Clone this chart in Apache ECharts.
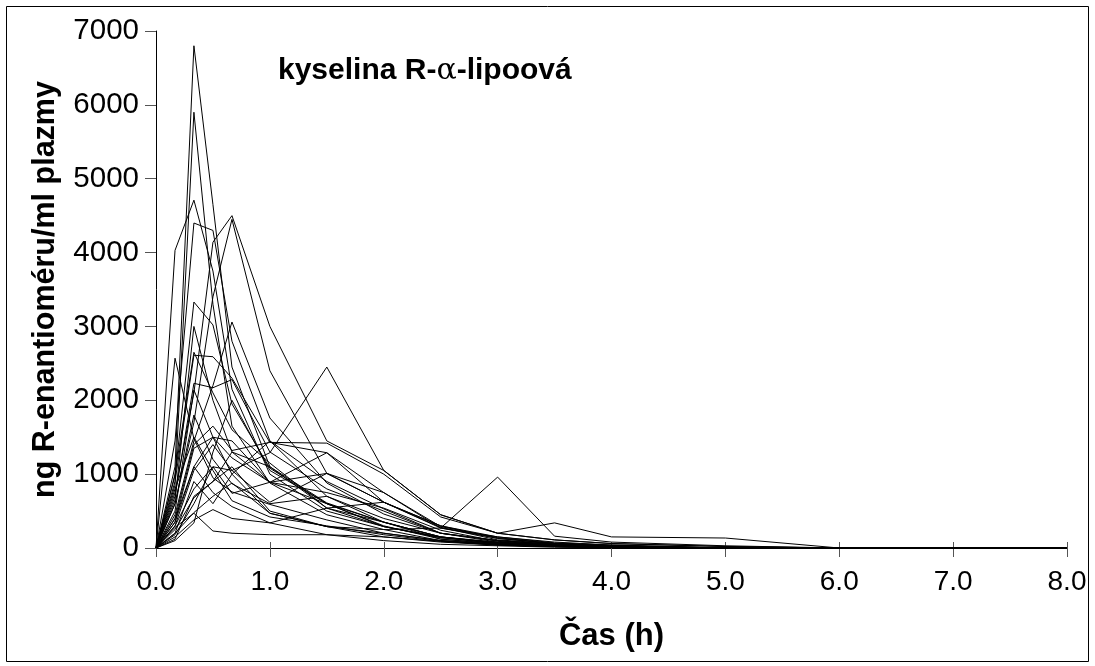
<!DOCTYPE html>
<html>
<head>
<meta charset="utf-8">
<script src="https://cdn.jsdelivr.net/npm/echarts@6/dist/echarts.min.js"></script>
<style>html,body{margin:0;padding:0;background:#fff}#c{width:1095px;height:666px}</style>
</head>
<body>
<div id="c"></div>
<script>
const times = [0, 0.167, 0.333, 0.5, 0.667, 1, 1.5, 2, 2.5, 3, 3.5, 4, 5, 6, 8];
const xTicks = ['0.0','1.0','2.0','3.0','4.0','5.0','6.0','7.0','8.0'];
const yTicks = ['0', '1000', '2000', '3000', '4000', '5000', '6000', '7000'];
const s01 = [0, 1100, 6800, 4650, 2450, 1100, 540, 290, 140, 60, 30, 15, 0, 0, 0];
const s02 = [0, 850, 5900, 3300, 1650, 880, 450, 250, 100, 50, 25, 10, 0, 0, 0];
const s03 = [0, 4030, 4710, 3750, 2150, 1000, 500, 290, 150, 80, 40, 20, 0, 0, 0];
const s04 = [0, 1450, 4400, 4300, 2800, 1450, 700, 350, 150, 70, 35, 15, 0, 0, 0];
const s05 = [0, 750, 2100, 4140, 4500, 3000, 1450, 1050, 450, 200, 110, 60, 20, 0, 0];
const s06 = [0, 600, 1700, 3400, 4450, 2400, 1010, 620, 270, 130, 60, 30, 0, 0, 0];
const s07 = [0, 2570, 1480, 950, 760, 590, 380, 200, 100, 50, 20, 10, 0, 0, 0];
const s08 = [0, 980, 3330, 3020, 1950, 1080, 600, 300, 120, 60, 30, 10, 0, 0, 0];
const s09 = [0, 450, 1450, 2200, 3060, 1760, 880, 460, 200, 100, 50, 20, 0, 0, 0];
const s10 = [0, 900, 2610, 2590, 2300, 1430, 1290, 750, 290, 140, 60, 30, 0, 0, 0];
const s11 = [0, 700, 2230, 2170, 2280, 1300, 800, 500, 200, 100, 50, 20, 0, 0, 0];
const s12 = [0, 300, 800, 1100, 1050, 1290, 2450, 1050, 450, 200, 110, 60, 20, 0, 0];
const s13 = [0, 200, 480, 700, 880, 470, 290, 250, 270, 960, 160, 80, 30, 0, 0];
const s14 = [0, 400, 1400, 1650, 1320, 1430, 1420, 1000, 420, 200, 340, 150, 135, 0, 0];
const s15 = [0, 650, 3000, 2000, 1300, 890, 1010, 620, 300, 130, 60, 30, 0, 0, 0];
const s16 = [0, 350, 1350, 1500, 1220, 890, 600, 350, 150, 70, 30, 15, 0, 0, 0];
const s17 = [0, 500, 2140, 1500, 1000, 470, 290, 150, 80, 40, 20, 10, 0, 0, 0];
const s18 = [0, 300, 1050, 1400, 1050, 620, 1010, 750, 270, 150, 80, 40, 0, 0, 0];
const s19 = [0, 250, 680, 900, 1300, 1100, 610, 350, 150, 60, 30, 15, 0, 0, 0];
const s20 = [0, 150, 380, 520, 400, 340, 540, 620, 280, 110, 60, 30, 0, 0, 0];
const s21 = [0, 280, 470, 230, 200, 180, 180, 150, 90, 50, 20, 10, 0, 0, 0];
const s22 = [0, 120, 700, 900, 1100, 500, 290, 200, 100, 40, 20, 10, 0, 0, 0];
const s23 = [0, 600, 1800, 1200, 870, 600, 700, 400, 200, 100, 50, 20, 0, 0, 0];
const s24 = [0, 350, 1100, 750, 560, 340, 180, 100, 50, 30, 10, 5, 0, 0, 0];
const s25 = [0, 200, 900, 600, 1000, 1450, 900, 530, 200, 80, 40, 20, 0, 0, 0];
const s26 = [0, 800, 1500, 1050, 640, 420, 300, 180, 90, 40, 20, 10, 0, 0, 0];
const s27 = [0, 100, 340, 1300, 2000, 1050, 600, 290, 140, 70, 30, 15, 0, 0, 0];
const s28 = [0, 400, 1100, 1500, 1450, 890, 1290, 620, 300, 150, 70, 40, 0, 0, 0];
const s29 = [0, 180, 600, 1100, 740, 890, 750, 540, 240, 90, 40, 20, 0, 0, 0];
const s30 = [0, 1000, 2650, 2100, 1600, 1150, 540, 350, 120, 50, 25, 10, 0, 0, 0];
const subjects = [s01,s02,s03,s04,s05,s06,s07,s08,s09,s10,s11,s12,s13,s14,s15,s16,s17,s18,s19,s20,s21,s22,s23,s24,s25,s26,s27,s28,s29,s30];

const FONT = '"Liberation Sans", Arial, sans-serif';
const chart = echarts.init(document.getElementById('c'), null, {renderer: 'canvas'});
const series = subjects.map((vals, i) => ({
  type: 'line', name: 'S' + (i + 1), xAxisIndex: 0,
  data: times.map((t, k) => [t, vals[k]]),
  symbol: 'none', lineStyle: {color: '#000', width: 1}, silent: true, z: 2
}));
chart.setOption({
  animation: false,
  backgroundColor: '#fff',
  grid: {left: 156, right: 28, top: 31, bottom: 118, containLabel: false},
  title: {
    text: '{b|kyselina R-}{a|α}{b|-lipoová}',
    left: 273, top: 51,
    textStyle: {rich: {
      b: {fontFamily: FONT, fontWeight: 'bold', fontSize: 30, color: '#000'},
      a: {fontFamily: 'DejaVu Serif, serif', fontWeight: 'normal', fontSize: 30, color: '#000'}
    }}
  },
  xAxis: [{
    type: 'value', min: 0, max: 8, interval: 1,
    name: 'Čas (h)', nameLocation: 'middle', nameGap: 73,
    nameTextStyle: {fontFamily: FONT, fontWeight: 'bold', fontSize: 31, color: '#000'},
    axisLine: {show: true, onZero: false, lineStyle: {color: '#000', width: 1}},
    axisTick: {show: true, length: 9, lineStyle: {color: '#555'}},
    axisLabel: {fontFamily: FONT, fontSize: 28, color: '#000', margin: 20,
      formatter: v => xTicks[Math.round(v)]},
    splitLine: {show: false}
  }, {
    type: 'value', min: 0, max: 8, interval: 1, position: 'bottom',
    axisLine: {show: false},
    axisTick: {show: true, inside: true, length: 6, lineStyle: {color: '#555'}},
    axisLabel: {show: false}, splitLine: {show: false}
  }],
  yAxis: {
    type: 'value', min: 0, max: 7000, interval: 1000,
    name: 'ng R-enantioméru/ml plazmy', nameLocation: 'middle', nameGap: 95,
    nameTextStyle: {fontFamily: FONT, fontWeight: 'bold', fontSize: 30.5, color: '#000'},
    axisLine: {show: true, lineStyle: {color: '#000', width: 1}},
    axisTick: {show: true, length: 11, lineStyle: {color: '#555'}},
    axisLabel: {fontFamily: FONT, fontSize: 29.5, color: '#000', margin: 17,
      formatter: v => yTicks[Math.round(v / 1000)]},
    splitLine: {show: false}
  },
  graphic: [{
    type: 'rect', shape: {x: 6.5, y: 6.5, width: 1082, height: 655},
    style: {fill: 'none', stroke: '#000', lineWidth: 1}, silent: true
  }],
  series: series
});
</script>
</body>
</html>
